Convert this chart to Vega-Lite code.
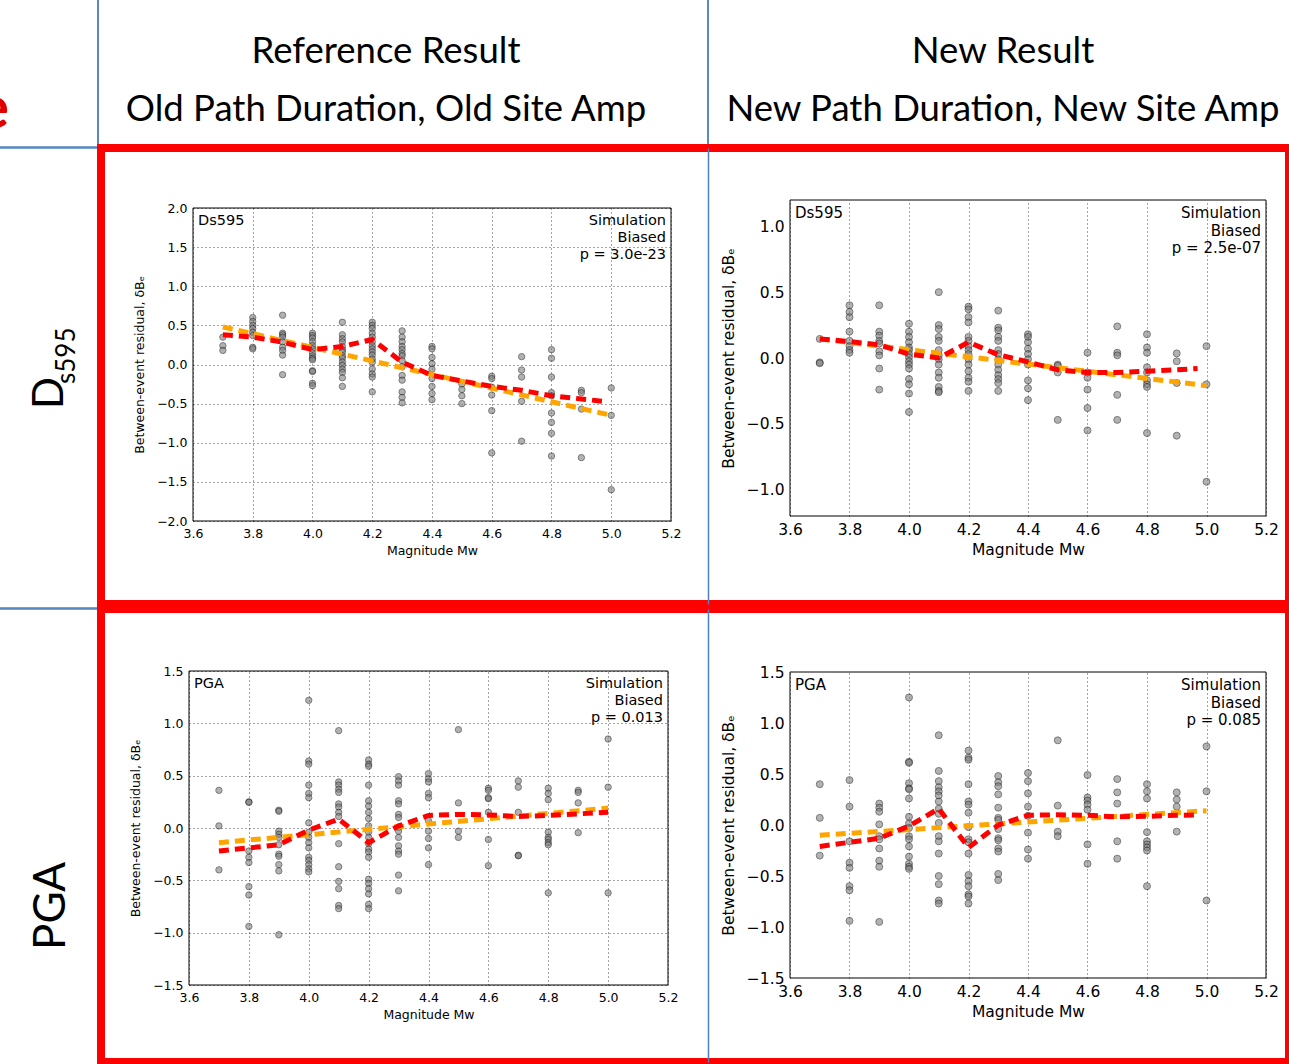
{
  "$schema": "https://vega.github.io/schema/vega-lite/v6.json",
  "padding": {"left": -31, "top": -6, "right": -10, "bottom": -2},
  "background": "white",
  "spacing": -4.75,
  "datasets": {
    "ds595_old": [
      {"Mw":3.7,"dB":0.35},{"Mw":3.7,"dB":0.24},{"Mw":3.7,"dB":0.18},
      {"Mw":3.8,"dB":0.60},{"Mw":3.8,"dB":0.55},{"Mw":3.8,"dB":0.50},{"Mw":3.8,"dB":0.46},{"Mw":3.8,"dB":0.41},{"Mw":3.8,"dB":0.37},{"Mw":3.8,"dB":0.22},{"Mw":3.8,"dB":0.20},
      {"Mw":3.9,"dB":0.63},{"Mw":3.9,"dB":0.40},{"Mw":3.9,"dB":0.38},{"Mw":3.9,"dB":0.35},{"Mw":3.9,"dB":0.29},{"Mw":3.9,"dB":0.22},{"Mw":3.9,"dB":0.18},{"Mw":3.9,"dB":0.12},{"Mw":3.9,"dB":-0.13},
      {"Mw":4.0,"dB":0.40},{"Mw":4.0,"dB":0.37},{"Mw":4.0,"dB":0.34},{"Mw":4.0,"dB":0.29},{"Mw":4.0,"dB":0.24},{"Mw":4.0,"dB":0.20},{"Mw":4.0,"dB":0.15},{"Mw":4.0,"dB":0.11},{"Mw":4.0,"dB":0.08},{"Mw":4.0,"dB":0.06},{"Mw":4.0,"dB":-0.08},{"Mw":4.0,"dB":-0.09},{"Mw":4.0,"dB":-0.24},{"Mw":4.0,"dB":-0.27},
      {"Mw":4.1,"dB":0.54},{"Mw":4.1,"dB":0.38},{"Mw":4.1,"dB":0.33},{"Mw":4.1,"dB":0.29},{"Mw":4.1,"dB":0.23},{"Mw":4.1,"dB":0.19},{"Mw":4.1,"dB":0.16},{"Mw":4.1,"dB":0.11},{"Mw":4.1,"dB":0.08},{"Mw":4.1,"dB":0.03},{"Mw":4.1,"dB":-0.01},{"Mw":4.1,"dB":-0.06},{"Mw":4.1,"dB":-0.10},{"Mw":4.1,"dB":-0.17},{"Mw":4.1,"dB":-0.28},
      {"Mw":4.2,"dB":0.54},{"Mw":4.2,"dB":0.50},{"Mw":4.2,"dB":0.46},{"Mw":4.2,"dB":0.40},{"Mw":4.2,"dB":0.35},{"Mw":4.2,"dB":0.29},{"Mw":4.2,"dB":0.24},{"Mw":4.2,"dB":0.20},{"Mw":4.2,"dB":0.16},{"Mw":4.2,"dB":0.12},{"Mw":4.2,"dB":0.07},{"Mw":4.2,"dB":0.03},{"Mw":4.2,"dB":-0.06},{"Mw":4.2,"dB":-0.12},{"Mw":4.2,"dB":-0.16},{"Mw":4.2,"dB":-0.35},
      {"Mw":4.3,"dB":0.43},{"Mw":4.3,"dB":0.35},{"Mw":4.3,"dB":0.29},{"Mw":4.3,"dB":0.23},{"Mw":4.3,"dB":0.19},{"Mw":4.3,"dB":0.14},{"Mw":4.3,"dB":0.11},{"Mw":4.3,"dB":0.05},{"Mw":4.3,"dB":-0.03},{"Mw":4.3,"dB":-0.14},{"Mw":4.3,"dB":-0.20},{"Mw":4.3,"dB":-0.35},{"Mw":4.3,"dB":-0.42},{"Mw":4.3,"dB":-0.49},
      {"Mw":4.4,"dB":0.23},{"Mw":4.4,"dB":0.20},{"Mw":4.4,"dB":0.09},{"Mw":4.4,"dB":0.01},{"Mw":4.4,"dB":-0.06},{"Mw":4.4,"dB":-0.18},{"Mw":4.4,"dB":-0.28},{"Mw":4.4,"dB":-0.37},{"Mw":4.4,"dB":-0.45},
      {"Mw":4.5,"dB":-0.25},{"Mw":4.5,"dB":-0.32},{"Mw":4.5,"dB":-0.40},{"Mw":4.5,"dB":-0.50},
      {"Mw":4.6,"dB":-0.15},{"Mw":4.6,"dB":-0.18},{"Mw":4.6,"dB":-0.29},{"Mw":4.6,"dB":-0.39},{"Mw":4.6,"dB":-0.59},{"Mw":4.6,"dB":-1.13},
      {"Mw":4.7,"dB":0.10},{"Mw":4.7,"dB":-0.07},{"Mw":4.7,"dB":-0.16},{"Mw":4.7,"dB":-0.47},{"Mw":4.7,"dB":-0.98},
      {"Mw":4.8,"dB":0.19},{"Mw":4.8,"dB":0.08},{"Mw":4.8,"dB":-0.16},{"Mw":4.8,"dB":-0.36},{"Mw":4.8,"dB":-0.40},{"Mw":4.8,"dB":-0.62},{"Mw":4.8,"dB":-0.74},{"Mw":4.8,"dB":-0.88},{"Mw":4.8,"dB":-1.17},
      {"Mw":4.9,"dB":-0.33},{"Mw":4.9,"dB":-0.36},{"Mw":4.9,"dB":-0.57},{"Mw":4.9,"dB":-1.19},
      {"Mw":5.0,"dB":-0.30},{"Mw":5.0,"dB":-0.65},{"Mw":5.0,"dB":-1.60}
    ],
    "ds595_old_mean": [
      {"Mw":3.7,"dB":0.38},{"Mw":3.8,"dB":0.35},{"Mw":3.9,"dB":0.285},{"Mw":4.0,"dB":0.19},{"Mw":4.1,"dB":0.23},{"Mw":4.2,"dB":0.32},{"Mw":4.3,"dB":0.03},{"Mw":4.4,"dB":-0.14},{"Mw":4.5,"dB":-0.21},{"Mw":4.6,"dB":-0.28},{"Mw":4.7,"dB":-0.33},{"Mw":4.8,"dB":-0.40},{"Mw":4.9,"dB":-0.44},{"Mw":4.97,"dB":-0.47}
    ],
    "ds595_old_fit": [{"Mw":3.7,"dB":0.48},{"Mw":5.0,"dB":-0.65}],
    "ds595_new": [
      {"Mw":3.7,"dB":0.145},{"Mw":3.7,"dB":-0.033},{"Mw":3.7,"dB":-0.04},
      {"Mw":3.8,"dB":0.40},{"Mw":3.8,"dB":0.35},{"Mw":3.8,"dB":0.31},{"Mw":3.8,"dB":0.20},{"Mw":3.8,"dB":0.13},{"Mw":3.8,"dB":0.09},{"Mw":3.8,"dB":0.06},{"Mw":3.8,"dB":0.04},
      {"Mw":3.9,"dB":0.40},{"Mw":3.9,"dB":0.20},{"Mw":3.9,"dB":0.17},{"Mw":3.9,"dB":0.13},{"Mw":3.9,"dB":0.11},{"Mw":3.9,"dB":0.05},{"Mw":3.9,"dB":0.02},{"Mw":3.9,"dB":-0.08},{"Mw":3.9,"dB":-0.24},
      {"Mw":4.0,"dB":0.26},{"Mw":4.0,"dB":0.20},{"Mw":4.0,"dB":0.16},{"Mw":4.0,"dB":0.12},{"Mw":4.0,"dB":0.08},{"Mw":4.0,"dB":0.06},{"Mw":4.0,"dB":0.03},{"Mw":4.0,"dB":0.005},{"Mw":4.0,"dB":-0.025},{"Mw":4.0,"dB":-0.05},{"Mw":4.0,"dB":-0.08},{"Mw":4.0,"dB":-0.16},{"Mw":4.0,"dB":-0.20},{"Mw":4.0,"dB":-0.27},{"Mw":4.0,"dB":-0.41},
      {"Mw":4.1,"dB":0.50},{"Mw":4.1,"dB":0.25},{"Mw":4.1,"dB":0.22},{"Mw":4.1,"dB":0.16},{"Mw":4.1,"dB":0.13},{"Mw":4.1,"dB":0.06},{"Mw":4.1,"dB":0.02},{"Mw":4.1,"dB":-0.01},{"Mw":4.1,"dB":-0.05},{"Mw":4.1,"dB":-0.11},{"Mw":4.1,"dB":-0.15},{"Mw":4.1,"dB":-0.22},{"Mw":4.1,"dB":-0.25},{"Mw":4.1,"dB":-0.26},
      {"Mw":4.2,"dB":0.39},{"Mw":4.2,"dB":0.37},{"Mw":4.2,"dB":0.31},{"Mw":4.2,"dB":0.27},{"Mw":4.2,"dB":0.16},{"Mw":4.2,"dB":0.13},{"Mw":4.2,"dB":0.09},{"Mw":4.2,"dB":0.06},{"Mw":4.2,"dB":0.03},{"Mw":4.2,"dB":-0.01},{"Mw":4.2,"dB":-0.05},{"Mw":4.2,"dB":-0.10},{"Mw":4.2,"dB":-0.15},{"Mw":4.2,"dB":-0.18},{"Mw":4.2,"dB":-0.25},
      {"Mw":4.3,"dB":0.36},{"Mw":4.3,"dB":0.23},{"Mw":4.3,"dB":0.21},{"Mw":4.3,"dB":0.16},{"Mw":4.3,"dB":0.13},{"Mw":4.3,"dB":0.06},{"Mw":4.3,"dB":0.03},{"Mw":4.3,"dB":-0.01},{"Mw":4.3,"dB":-0.05},{"Mw":4.3,"dB":-0.09},{"Mw":4.3,"dB":-0.13},{"Mw":4.3,"dB":-0.16},{"Mw":4.3,"dB":-0.19},{"Mw":4.3,"dB":-0.25},
      {"Mw":4.4,"dB":0.18},{"Mw":4.4,"dB":0.16},{"Mw":4.4,"dB":0.12},{"Mw":4.4,"dB":0.07},{"Mw":4.4,"dB":0.03},{"Mw":4.4,"dB":-0.01},{"Mw":4.4,"dB":-0.05},{"Mw":4.4,"dB":-0.17},{"Mw":4.4,"dB":-0.23},{"Mw":4.4,"dB":-0.32},
      {"Mw":4.5,"dB":-0.05},{"Mw":4.5,"dB":-0.06},{"Mw":4.5,"dB":-0.11},{"Mw":4.5,"dB":-0.47},
      {"Mw":4.6,"dB":0.04},{"Mw":4.6,"dB":-0.11},{"Mw":4.6,"dB":-0.15},{"Mw":4.6,"dB":-0.24},{"Mw":4.6,"dB":-0.38},{"Mw":4.6,"dB":-0.55},
      {"Mw":4.7,"dB":0.24},{"Mw":4.7,"dB":0.04},{"Mw":4.7,"dB":0.02},{"Mw":4.7,"dB":-0.28},{"Mw":4.7,"dB":-0.47},
      {"Mw":4.8,"dB":0.18},{"Mw":4.8,"dB":0.08},{"Mw":4.8,"dB":0.04},{"Mw":4.8,"dB":-0.07},{"Mw":4.8,"dB":-0.11},{"Mw":4.8,"dB":-0.17},{"Mw":4.8,"dB":-0.20},{"Mw":4.8,"dB":-0.22},{"Mw":4.8,"dB":-0.57},
      {"Mw":4.9,"dB":0.035},{"Mw":4.9,"dB":-0.025},{"Mw":4.9,"dB":-0.19},{"Mw":4.9,"dB":-0.59},
      {"Mw":5.0,"dB":0.09},{"Mw":5.0,"dB":-0.20},{"Mw":5.0,"dB":-0.94}
    ],
    "ds595_new_mean": [
      {"Mw":3.7,"dB":0.145},{"Mw":3.8,"dB":0.125},{"Mw":3.9,"dB":0.10},{"Mw":4.0,"dB":0.03},{"Mw":4.1,"dB":0.0},{"Mw":4.2,"dB":0.12},{"Mw":4.3,"dB":0.025},{"Mw":4.4,"dB":-0.03},{"Mw":4.5,"dB":-0.09},{"Mw":4.6,"dB":-0.11},{"Mw":4.7,"dB":-0.11},{"Mw":4.8,"dB":-0.10},{"Mw":4.9,"dB":-0.09},{"Mw":4.97,"dB":-0.08}
    ],
    "ds595_new_fit": [{"Mw":3.7,"dB":0.145},{"Mw":5.0,"dB":-0.21}],
    "pga_old": [
      {"Mw":3.7,"dB":0.36},{"Mw":3.7,"dB":0.02},{"Mw":3.7,"dB":-0.40},
      {"Mw":3.8,"dB":0.25},{"Mw":3.8,"dB":0.245},{"Mw":3.8,"dB":-0.22},{"Mw":3.8,"dB":-0.28},{"Mw":3.8,"dB":-0.33},{"Mw":3.8,"dB":-0.56},{"Mw":3.8,"dB":-0.64},{"Mw":3.8,"dB":-0.94},
      {"Mw":3.9,"dB":0.17},{"Mw":3.9,"dB":0.16},{"Mw":3.9,"dB":-0.03},{"Mw":3.9,"dB":-0.06},{"Mw":3.9,"dB":-0.09},{"Mw":3.9,"dB":-0.16},{"Mw":3.9,"dB":-0.25},{"Mw":3.9,"dB":-0.27},{"Mw":3.9,"dB":-0.35},{"Mw":3.9,"dB":-0.41},{"Mw":3.9,"dB":-1.02},
      {"Mw":4.0,"dB":1.22},{"Mw":4.0,"dB":0.64},{"Mw":4.0,"dB":0.61},{"Mw":4.0,"dB":0.41},{"Mw":4.0,"dB":0.33},{"Mw":4.0,"dB":0.29},{"Mw":4.0,"dB":0.05},{"Mw":4.0,"dB":-0.04},{"Mw":4.0,"dB":-0.09},{"Mw":4.0,"dB":-0.14},{"Mw":4.0,"dB":-0.19},{"Mw":4.0,"dB":-0.28},{"Mw":4.0,"dB":-0.31},{"Mw":4.0,"dB":-0.35},{"Mw":4.0,"dB":-0.39},{"Mw":4.0,"dB":-0.42},
      {"Mw":4.1,"dB":0.93},{"Mw":4.1,"dB":0.44},{"Mw":4.1,"dB":0.41},{"Mw":4.1,"dB":0.37},{"Mw":4.1,"dB":0.34},{"Mw":4.1,"dB":0.23},{"Mw":4.1,"dB":0.20},{"Mw":4.1,"dB":0.15},{"Mw":4.1,"dB":0.11},{"Mw":4.1,"dB":-0.15},{"Mw":4.1,"dB":-0.37},{"Mw":4.1,"dB":-0.51},{"Mw":4.1,"dB":-0.58},{"Mw":4.1,"dB":-0.74},{"Mw":4.1,"dB":-0.77},
      {"Mw":4.2,"dB":0.65},{"Mw":4.2,"dB":0.61},{"Mw":4.2,"dB":0.59},{"Mw":4.2,"dB":0.41},{"Mw":4.2,"dB":0.26},{"Mw":4.2,"dB":0.21},{"Mw":4.2,"dB":0.15},{"Mw":4.2,"dB":0.09},{"Mw":4.2,"dB":0.02},{"Mw":4.2,"dB":-0.04},{"Mw":4.2,"dB":-0.09},{"Mw":4.2,"dB":-0.15},{"Mw":4.2,"dB":-0.20},{"Mw":4.2,"dB":-0.23},{"Mw":4.2,"dB":-0.28},{"Mw":4.2,"dB":-0.49},{"Mw":4.2,"dB":-0.53},{"Mw":4.2,"dB":-0.58},{"Mw":4.2,"dB":-0.63},{"Mw":4.2,"dB":-0.73},{"Mw":4.2,"dB":-0.77},
      {"Mw":4.3,"dB":0.49},{"Mw":4.3,"dB":0.45},{"Mw":4.3,"dB":0.41},{"Mw":4.3,"dB":0.26},{"Mw":4.3,"dB":0.23},{"Mw":4.3,"dB":0.13},{"Mw":4.3,"dB":0.10},{"Mw":4.3,"dB":0.006},{"Mw":4.3,"dB":-0.03},{"Mw":4.3,"dB":-0.09},{"Mw":4.3,"dB":-0.17},{"Mw":4.3,"dB":-0.22},{"Mw":4.3,"dB":-0.25},{"Mw":4.3,"dB":-0.45},{"Mw":4.3,"dB":-0.60},
      {"Mw":4.4,"dB":0.52},{"Mw":4.4,"dB":0.47},{"Mw":4.4,"dB":0.44},{"Mw":4.4,"dB":0.33},{"Mw":4.4,"dB":0.29},{"Mw":4.4,"dB":0.07},{"Mw":4.4,"dB":-0.03},{"Mw":4.4,"dB":-0.10},{"Mw":4.4,"dB":-0.19},{"Mw":4.4,"dB":-0.35},
      {"Mw":4.5,"dB":0.94},{"Mw":4.5,"dB":0.24},{"Mw":4.5,"dB":-0.03},{"Mw":4.5,"dB":-0.09},
      {"Mw":4.6,"dB":0.38},{"Mw":4.6,"dB":0.36},{"Mw":4.6,"dB":0.29},{"Mw":4.6,"dB":0.28},{"Mw":4.6,"dB":0.15},{"Mw":4.6,"dB":-0.11},{"Mw":4.6,"dB":-0.36},
      {"Mw":4.7,"dB":0.45},{"Mw":4.7,"dB":0.39},{"Mw":4.7,"dB":0.15},{"Mw":4.7,"dB":-0.26},{"Mw":4.7,"dB":-0.265},
      {"Mw":4.8,"dB":0.38},{"Mw":4.8,"dB":0.33},{"Mw":4.8,"dB":0.27},{"Mw":4.8,"dB":-0.04},{"Mw":4.8,"dB":-0.09},{"Mw":4.8,"dB":-0.11},{"Mw":4.8,"dB":-0.14},{"Mw":4.8,"dB":-0.16},{"Mw":4.8,"dB":-0.62},
      {"Mw":4.9,"dB":0.36},{"Mw":4.9,"dB":0.34},{"Mw":4.9,"dB":0.24},{"Mw":4.9,"dB":-0.045},
      {"Mw":5.0,"dB":0.85},{"Mw":5.0,"dB":0.39},{"Mw":5.0,"dB":-0.62}
    ],
    "pga_old_mean": [
      {"Mw":3.7,"dB":-0.22},{"Mw":3.8,"dB":-0.19},{"Mw":3.9,"dB":-0.16},{"Mw":4.0,"dB":-0.02},{"Mw":4.1,"dB":0.085},{"Mw":4.2,"dB":-0.14},{"Mw":4.3,"dB":0.02},{"Mw":4.4,"dB":0.12},{"Mw":4.5,"dB":0.13},{"Mw":4.6,"dB":0.125},{"Mw":4.7,"dB":0.11},{"Mw":4.8,"dB":0.12},{"Mw":4.9,"dB":0.135},{"Mw":5.0,"dB":0.15}
    ],
    "pga_old_fit": [{"Mw":3.7,"dB":-0.14},{"Mw":5.0,"dB":0.19}],
    "pga_new": [
      {"Mw":3.7,"dB":0.40},{"Mw":3.7,"dB":0.07},{"Mw":3.7,"dB":-0.30},
      {"Mw":3.8,"dB":0.44},{"Mw":3.8,"dB":0.18},{"Mw":3.8,"dB":-0.16},{"Mw":3.8,"dB":-0.37},{"Mw":3.8,"dB":-0.42},{"Mw":3.8,"dB":-0.60},{"Mw":3.8,"dB":-0.64},{"Mw":3.8,"dB":-0.94},
      {"Mw":3.9,"dB":0.21},{"Mw":3.9,"dB":0.17},{"Mw":3.9,"dB":0.13},{"Mw":3.9,"dB":0.006},{"Mw":3.9,"dB":-0.11},{"Mw":3.9,"dB":-0.14},{"Mw":3.9,"dB":-0.23},{"Mw":3.9,"dB":-0.35},{"Mw":3.9,"dB":-0.41},{"Mw":3.9,"dB":-0.95},
      {"Mw":4.0,"dB":1.25},{"Mw":4.0,"dB":0.62},{"Mw":4.0,"dB":0.61},{"Mw":4.0,"dB":0.41},{"Mw":4.0,"dB":0.36},{"Mw":4.0,"dB":0.35},{"Mw":4.0,"dB":0.26},{"Mw":4.0,"dB":0.08},{"Mw":4.0,"dB":0.016},{"Mw":4.0,"dB":-0.03},{"Mw":4.0,"dB":-0.11},{"Mw":4.0,"dB":-0.14},{"Mw":4.0,"dB":-0.21},{"Mw":4.0,"dB":-0.31},{"Mw":4.0,"dB":-0.38},{"Mw":4.0,"dB":-0.41},{"Mw":4.0,"dB":-0.43},
      {"Mw":4.1,"dB":0.88},{"Mw":4.1,"dB":0.53},{"Mw":4.1,"dB":0.43},{"Mw":4.1,"dB":0.37},{"Mw":4.1,"dB":0.33},{"Mw":4.1,"dB":0.29},{"Mw":4.1,"dB":0.23},{"Mw":4.1,"dB":0.16},{"Mw":4.1,"dB":0.11},{"Mw":4.1,"dB":0.02},{"Mw":4.1,"dB":-0.11},{"Mw":4.1,"dB":-0.16},{"Mw":4.1,"dB":-0.28},{"Mw":4.1,"dB":-0.50},{"Mw":4.1,"dB":-0.58},{"Mw":4.1,"dB":-0.74},{"Mw":4.1,"dB":-0.77},
      {"Mw":4.2,"dB":0.73},{"Mw":4.2,"dB":0.66},{"Mw":4.2,"dB":0.64},{"Mw":4.2,"dB":0.40},{"Mw":4.2,"dB":0.23},{"Mw":4.2,"dB":0.20},{"Mw":4.2,"dB":0.12},{"Mw":4.2,"dB":-0.02},{"Mw":4.2,"dB":-0.14},{"Mw":4.2,"dB":-0.17},{"Mw":4.2,"dB":-0.28},{"Mw":4.2,"dB":-0.49},{"Mw":4.2,"dB":-0.55},{"Mw":4.2,"dB":-0.60},{"Mw":4.2,"dB":-0.68},{"Mw":4.2,"dB":-0.70},{"Mw":4.2,"dB":-0.77},
      {"Mw":4.3,"dB":0.48},{"Mw":4.3,"dB":0.42},{"Mw":4.3,"dB":0.38},{"Mw":4.3,"dB":0.30},{"Mw":4.3,"dB":0.17},{"Mw":4.3,"dB":0.07},{"Mw":4.3,"dB":0.05},{"Mw":4.3,"dB":-0.04},{"Mw":4.3,"dB":-0.13},{"Mw":4.3,"dB":-0.15},{"Mw":4.3,"dB":-0.23},{"Mw":4.3,"dB":-0.26},{"Mw":4.3,"dB":-0.48},{"Mw":4.3,"dB":-0.54},
      {"Mw":4.4,"dB":0.51},{"Mw":4.4,"dB":0.43},{"Mw":4.4,"dB":0.31},{"Mw":4.4,"dB":0.18},{"Mw":4.4,"dB":0.09},{"Mw":4.4,"dB":-0.075},{"Mw":4.4,"dB":-0.24},{"Mw":4.4,"dB":-0.33},
      {"Mw":4.5,"dB":0.83},{"Mw":4.5,"dB":0.19},{"Mw":4.5,"dB":-0.065},{"Mw":4.5,"dB":-0.11},
      {"Mw":4.6,"dB":0.49},{"Mw":4.6,"dB":0.27},{"Mw":4.6,"dB":0.24},{"Mw":4.6,"dB":0.20},{"Mw":4.6,"dB":0.15},{"Mw":4.6,"dB":-0.19},{"Mw":4.6,"dB":-0.38},
      {"Mw":4.7,"dB":0.45},{"Mw":4.7,"dB":0.32},{"Mw":4.7,"dB":0.21},{"Mw":4.7,"dB":-0.16},{"Mw":4.7,"dB":-0.33},
      {"Mw":4.8,"dB":0.40},{"Mw":4.8,"dB":0.33},{"Mw":4.8,"dB":0.26},{"Mw":4.8,"dB":-0.07},{"Mw":4.8,"dB":-0.16},{"Mw":4.8,"dB":-0.19},{"Mw":4.8,"dB":-0.22},{"Mw":4.8,"dB":-0.25},{"Mw":4.8,"dB":-0.60},
      {"Mw":4.9,"dB":0.32},{"Mw":4.9,"dB":0.25},{"Mw":4.9,"dB":0.18},{"Mw":4.9,"dB":-0.065},
      {"Mw":5.0,"dB":0.77},{"Mw":5.0,"dB":0.33},{"Mw":5.0,"dB":-0.74}
    ],
    "pga_new_mean": [
      {"Mw":3.7,"dB":-0.21},{"Mw":3.8,"dB":-0.17},{"Mw":3.9,"dB":-0.13},{"Mw":4.0,"dB":-0.01},{"Mw":4.1,"dB":0.16},{"Mw":4.2,"dB":-0.22},{"Mw":4.3,"dB":0.0},{"Mw":4.4,"dB":0.095},{"Mw":4.5,"dB":0.10},{"Mw":4.6,"dB":0.095},{"Mw":4.7,"dB":0.08},{"Mw":4.8,"dB":0.085},{"Mw":4.9,"dB":0.095},{"Mw":4.97,"dB":0.10}
    ],
    "pga_new_fit": [{"Mw":3.7,"dB":-0.10},{"Mw":5.0,"dB":0.14}]
  },
  "vconcat": [
    {
      "spacing": 0,
      "bounds": "flush",
      "hconcat": [
        {
          "width": 128, "height": 152,
          "view": {"stroke": "#4F81BD", "strokeWidth": 1.5},
          "data": {"values": [{"t": "e"}]},
          "mark": {"type": "text", "font": "Lato", "fontSize": 60, "fontWeight": "bold", "color": "#E00000", "align": "right", "baseline": "alphabetic", "dx": -25, "dy": 57},
          "encoding": {"text": {"field": "t"}}
        },
        {
          "width": 610, "height": 152,
          "view": {"stroke": "#4F81BD", "strokeWidth": 1.5},
          "data": {"values": [{"heading": "Reference Result\nOld Path Duration, Old Site Amp"}]},
          "mark": {"type": "text", "font": "Lato", "fontSize": 36.5, "lineBreak": "\n", "lineHeight": 58, "align": "center", "baseline": "alphabetic", "dx": -17, "dy": -8, "color": "#000"},
          "encoding": {"text": {"field": "heading"}}
        },
        {
          "width": 590, "height": 152,
          "view": {"stroke": "#4F81BD", "strokeWidth": 1.5},
          "data": {"values": [{"heading": "New Result\nNew Path Duration, New Site Amp"}]},
          "mark": {"type": "text", "font": "Lato", "fontSize": 36.5, "lineBreak": "\n", "lineHeight": 58, "align": "center", "baseline": "alphabetic", "dx": 0, "dy": -8, "color": "#000"},
          "encoding": {"text": {"field": "heading"}}
        }
      ]
    },
    {
      "spacing": 0,
      "bounds": "flush",
      "hconcat": [
        {
          "width": 131, "height": 460,
          "view": {"stroke": "#4F81BD", "strokeWidth": 1.5},
          "layer": [
            {
              "data": {"values": [{"t": "D"}]},
              "mark": {"type": "text", "font": "Lato", "fontSize": 42, "angle": 270, "align": "left", "baseline": "alphabetic", "dx": -31, "dy": 27.5, "color": "#000"},
              "encoding": {"text": {"field": "t"}}
            },
            {
              "data": {"values": [{"t": "s595"}]},
              "mark": {"type": "text", "font": "Lato", "fontSize": 26, "angle": 270, "align": "left", "baseline": "alphabetic", "dx": -6, "dy": 39.5, "color": "#000"},
              "encoding": {"text": {"field": "t"}}
            }
          ]
        },
        {
          "width": 1188, "height": 456,
          "view": {"stroke": "#FF0000", "strokeWidth": 8},
          "resolve": {"scale": {"x": "independent", "y": "independent"}, "axis": {"x": "independent", "y": "independent"}},
          "layer": [
            {
              "resolve": {"axis": {"x": "independent"}},
              "layer": [
                {
                  "data": {"name": "ds595_old"},
                  "mark": {"type": "circle", "size": 40, "color": "#808080", "opacity": 0.6, "stroke": "#202020", "strokeWidth": 1},
                  "encoding": {
                    "x": {"field": "Mw", "type": "quantitative",
                          "scale": {"domain": [3.6, 5.2], "range": [92, 570], "nice": false, "zero": false},
                          "axis": {"orient": "bottom", "offset": -83, "grid": false, "values": [3.6, 3.8, 4.0, 4.2, 4.4, 4.6, 4.8, 5.0, 5.2], "title": "Magnitude Mw", "labelFontSize": 12.5, "titleFontSize": 12.5, "labelPadding": 6, "titlePadding": 5}},
                    "y": {"field": "dB", "type": "quantitative",
                          "scale": {"domain": [-2, 2], "range": [373, 60], "nice": false, "zero": false},
                          "axis": {"orient": "left", "offset": -92, "values": [-2, -1.5, -1, -0.5, 0, 0.5, 1, 1.5, 2], "title": "Between-event residual, δBₑ", "labelFontSize": 12.5, "titleFontSize": 12.5, "labelPadding": 6, "titlePadding": 10}}
                  }
                },
                {
                  "data": {"name": "ds595_old_fit"},
                  "mark": {"type": "line", "color": "#FFA500", "strokeWidth": 5, "strokeDash": [10, 6]},
                  "encoding": {"x": {"field": "Mw", "type": "quantitative", "axis": null}, "y": {"field": "dB", "type": "quantitative"}}
                },
                {
                  "data": {"name": "ds595_old_mean"},
                  "mark": {"type": "line", "color": "#FF0000", "strokeWidth": 5, "strokeDash": [10, 6]},
                  "encoding": {"x": {"field": "Mw", "type": "quantitative", "axis": null}, "y": {"field": "dB", "type": "quantitative"}}
                },
                {
                  "data": {"values": [{}]},
                  "mark": {"type": "rect", "fillOpacity": 0, "stroke": "#000", "strokeWidth": 1},
                  "encoding": {
                    "x": {"datum": 3.6, "type": "quantitative", "axis": {"orient": "top", "grid": true, "labels": false, "title": null, "values": [3.6, 3.8, 4.0, 4.2, 4.4, 4.6, 4.8, 5.0, 5.2]}},
                    "x2": {"datum": 5.2}, "y": {"datum": -2, "type": "quantitative"}, "y2": {"datum": 2}}
                },
                {
                  "data": {"values": [{"note": "Ds595"}]},
                  "mark": {"type": "text", "align": "left", "baseline": "top", "dx": 5, "dy": 6, "fontSize": 14.5},
                  "encoding": {"x": {"datum": 3.6, "type": "quantitative", "axis": null}, "y": {"datum": 2, "type": "quantitative"}, "text": {"field": "note"}}
                },
                {
                  "data": {"values": [{"note": "Simulation\nBiased\np = 3.0e-23"}]},
                  "mark": {"type": "text", "align": "right", "baseline": "top", "lineBreak": "\n", "lineHeight": 17, "dx": -5, "dy": 6, "fontSize": 14.5},
                  "encoding": {"x": {"datum": 5.2, "type": "quantitative", "axis": null}, "y": {"datum": 2, "type": "quantitative"}, "text": {"field": "note"}}
                }
              ]
            },
            {
              "resolve": {"axis": {"x": "independent"}},
              "layer": [
                {
                  "data": {"name": "ds595_new"},
                  "mark": {"type": "circle", "size": 48, "color": "#808080", "opacity": 0.6, "stroke": "#202020", "strokeWidth": 1},
                  "encoding": {
                    "x": {"field": "Mw", "type": "quantitative",
                          "scale": {"domain": [3.6, 5.2], "range": [689, 1165], "nice": false, "zero": false},
                          "axis": {"orient": "bottom", "offset": -88, "grid": false, "values": [3.6, 3.8, 4.0, 4.2, 4.4, 4.6, 4.8, 5.0, 5.2], "title": "Magnitude Mw", "labelFontSize": 15.5, "titleFontSize": 15.5, "labelPadding": 6, "titlePadding": 5}},
                    "y": {"field": "dB", "type": "quantitative",
                          "scale": {"domain": [-1.2, 1.2], "range": [368, 52], "nice": false, "zero": false},
                          "axis": {"orient": "left", "offset": -689, "values": [-1, -0.5, 0, 0.5, 1], "title": "Between-event residual, δBₑ", "labelFontSize": 15.5, "titleFontSize": 15.5, "labelPadding": 6, "titlePadding": 10}}
                  }
                },
                {
                  "data": {"name": "ds595_new_fit"},
                  "mark": {"type": "line", "color": "#FFA500", "strokeWidth": 5, "strokeDash": [10, 6]},
                  "encoding": {"x": {"field": "Mw", "type": "quantitative", "axis": null}, "y": {"field": "dB", "type": "quantitative"}}
                },
                {
                  "data": {"name": "ds595_new_mean"},
                  "mark": {"type": "line", "color": "#FF0000", "strokeWidth": 5, "strokeDash": [10, 6]},
                  "encoding": {"x": {"field": "Mw", "type": "quantitative", "axis": null}, "y": {"field": "dB", "type": "quantitative"}}
                },
                {
                  "data": {"values": [{}]},
                  "mark": {"type": "rect", "fillOpacity": 0, "stroke": "#000", "strokeWidth": 1},
                  "encoding": {
                    "x": {"datum": 3.6, "type": "quantitative", "axis": {"orient": "top", "grid": true, "labels": false, "title": null, "values": [3.6, 3.8, 4.0, 4.2, 4.4, 4.6, 4.8, 5.0, 5.2]}},
                    "x2": {"datum": 5.2}, "y": {"datum": -1.2, "type": "quantitative"}, "y2": {"datum": 1.2}}
                },
                {
                  "data": {"values": [{"note": "Ds595"}]},
                  "mark": {"type": "text", "align": "left", "baseline": "top", "dx": 5, "dy": 6, "fontSize": 15},
                  "encoding": {"x": {"datum": 3.6, "type": "quantitative", "axis": null}, "y": {"datum": 1.2, "type": "quantitative"}, "text": {"field": "note"}}
                },
                {
                  "data": {"values": [{"note": "Simulation\nBiased\np = 2.5e-07"}]},
                  "mark": {"type": "text", "align": "right", "baseline": "top", "lineBreak": "\n", "lineHeight": 17.5, "dx": -5, "dy": 6, "fontSize": 15},
                  "encoding": {"x": {"datum": 5.2, "type": "quantitative", "axis": null}, "y": {"datum": 1.2, "type": "quantitative"}, "text": {"field": "note"}}
                }
              ]
            },
            {
              "data": {"values": [{}]},
              "mark": {"type": "rule", "opacity": 0},
              "encoding": {
                "y": {"datum": 0, "type": "quantitative", "scale": {"domain": [0, 1], "range": [456, 0]},
                      "axis": {"orient": "left", "offset": -607, "domain": true, "domainColor": "#4F81BD", "domainWidth": 1.5, "labels": false, "ticks": false, "grid": false, "title": null}}
              }
            }
          ]
        }
      ]
    },
    {
      "spacing": 0,
      "bounds": "flush",
      "hconcat": [
        {
          "width": 131, "height": 457,
          "view": {"stroke": "#4F81BD", "strokeWidth": 1.5},
          "data": {"values": [{"t": "PGA"}]},
          "mark": {"type": "text", "font": "Lato", "fontSize": 44, "angle": 270, "align": "center", "baseline": "alphabetic", "dx": -68.5, "dy": 29.5, "color": "#000"},
          "encoding": {"text": {"field": "t"}}
        },
        {
          "width": 1188, "height": 453,
          "view": {"stroke": "#FF0000", "strokeWidth": 8},
          "resolve": {"scale": {"x": "independent", "y": "independent"}, "axis": {"x": "independent", "y": "independent"}},
          "layer": [
            {
              "resolve": {"axis": {"x": "independent"}},
              "layer": [
                {
                  "data": {"name": "pga_old"},
                  "mark": {"type": "circle", "size": 40, "color": "#808080", "opacity": 0.6, "stroke": "#202020", "strokeWidth": 1},
                  "encoding": {
                    "x": {"field": "Mw", "type": "quantitative",
                          "scale": {"domain": [3.6, 5.2], "range": [88, 567], "nice": false, "zero": false},
                          "axis": {"orient": "bottom", "offset": -77, "grid": false, "values": [3.6, 3.8, 4.0, 4.2, 4.4, 4.6, 4.8, 5.0, 5.2], "title": "Magnitude Mw", "labelFontSize": 12.5, "titleFontSize": 12.5, "labelPadding": 6, "titlePadding": 5}},
                    "y": {"field": "dB", "type": "quantitative",
                          "scale": {"domain": [-1.5, 1.5], "range": [376, 62], "nice": false, "zero": false},
                          "axis": {"orient": "left", "offset": -88, "values": [-1.5, -1, -0.5, 0, 0.5, 1, 1.5], "title": "Between-event residual, δBₑ", "labelFontSize": 12.5, "titleFontSize": 12.5, "labelPadding": 6, "titlePadding": 10}}
                  }
                },
                {
                  "data": {"name": "pga_old_fit"},
                  "mark": {"type": "line", "color": "#FFA500", "strokeWidth": 5, "strokeDash": [10, 6]},
                  "encoding": {"x": {"field": "Mw", "type": "quantitative", "axis": null}, "y": {"field": "dB", "type": "quantitative"}}
                },
                {
                  "data": {"name": "pga_old_mean"},
                  "mark": {"type": "line", "color": "#FF0000", "strokeWidth": 5, "strokeDash": [10, 6]},
                  "encoding": {"x": {"field": "Mw", "type": "quantitative", "axis": null}, "y": {"field": "dB", "type": "quantitative"}}
                },
                {
                  "data": {"values": [{}]},
                  "mark": {"type": "rect", "fillOpacity": 0, "stroke": "#000", "strokeWidth": 1},
                  "encoding": {
                    "x": {"datum": 3.6, "type": "quantitative", "axis": {"orient": "top", "grid": true, "labels": false, "title": null, "values": [3.6, 3.8, 4.0, 4.2, 4.4, 4.6, 4.8, 5.0, 5.2]}},
                    "x2": {"datum": 5.2}, "y": {"datum": -1.5, "type": "quantitative"}, "y2": {"datum": 1.5}}
                },
                {
                  "data": {"values": [{"note": "PGA"}]},
                  "mark": {"type": "text", "align": "left", "baseline": "top", "dx": 5, "dy": 6, "fontSize": 14.5},
                  "encoding": {"x": {"datum": 3.6, "type": "quantitative", "axis": null}, "y": {"datum": 1.5, "type": "quantitative"}, "text": {"field": "note"}}
                },
                {
                  "data": {"values": [{"note": "Simulation\nBiased\np = 0.013"}]},
                  "mark": {"type": "text", "align": "right", "baseline": "top", "lineBreak": "\n", "lineHeight": 17, "dx": -5, "dy": 6, "fontSize": 14.5},
                  "encoding": {"x": {"datum": 5.2, "type": "quantitative", "axis": null}, "y": {"datum": 1.5, "type": "quantitative"}, "text": {"field": "note"}}
                }
              ]
            },
            {
              "resolve": {"axis": {"x": "independent"}},
              "layer": [
                {
                  "data": {"name": "pga_new"},
                  "mark": {"type": "circle", "size": 48, "color": "#808080", "opacity": 0.6, "stroke": "#202020", "strokeWidth": 1},
                  "encoding": {
                    "x": {"field": "Mw", "type": "quantitative",
                          "scale": {"domain": [3.6, 5.2], "range": [689, 1165], "nice": false, "zero": false},
                          "axis": {"orient": "bottom", "offset": -84, "grid": false, "values": [3.6, 3.8, 4.0, 4.2, 4.4, 4.6, 4.8, 5.0, 5.2], "title": "Magnitude Mw", "labelFontSize": 15.5, "titleFontSize": 15.5, "labelPadding": 6, "titlePadding": 5}},
                    "y": {"field": "dB", "type": "quantitative",
                          "scale": {"domain": [-1.5, 1.5], "range": [369, 63], "nice": false, "zero": false},
                          "axis": {"orient": "left", "offset": -689, "values": [-1.5, -1, -0.5, 0, 0.5, 1, 1.5], "title": "Between-event residual, δBₑ", "labelFontSize": 15.5, "titleFontSize": 15.5, "labelPadding": 6, "titlePadding": 10}}
                  }
                },
                {
                  "data": {"name": "pga_new_fit"},
                  "mark": {"type": "line", "color": "#FFA500", "strokeWidth": 5, "strokeDash": [10, 6]},
                  "encoding": {"x": {"field": "Mw", "type": "quantitative", "axis": null}, "y": {"field": "dB", "type": "quantitative"}}
                },
                {
                  "data": {"name": "pga_new_mean"},
                  "mark": {"type": "line", "color": "#FF0000", "strokeWidth": 5, "strokeDash": [10, 6]},
                  "encoding": {"x": {"field": "Mw", "type": "quantitative", "axis": null}, "y": {"field": "dB", "type": "quantitative"}}
                },
                {
                  "data": {"values": [{}]},
                  "mark": {"type": "rect", "fillOpacity": 0, "stroke": "#000", "strokeWidth": 1},
                  "encoding": {
                    "x": {"datum": 3.6, "type": "quantitative", "axis": {"orient": "top", "grid": true, "labels": false, "title": null, "values": [3.6, 3.8, 4.0, 4.2, 4.4, 4.6, 4.8, 5.0, 5.2]}},
                    "x2": {"datum": 5.2}, "y": {"datum": -1.5, "type": "quantitative"}, "y2": {"datum": 1.5}}
                },
                {
                  "data": {"values": [{"note": "PGA"}]},
                  "mark": {"type": "text", "align": "left", "baseline": "top", "dx": 5, "dy": 6, "fontSize": 15},
                  "encoding": {"x": {"datum": 3.6, "type": "quantitative", "axis": null}, "y": {"datum": 1.5, "type": "quantitative"}, "text": {"field": "note"}}
                },
                {
                  "data": {"values": [{"note": "Simulation\nBiased\np = 0.085"}]},
                  "mark": {"type": "text", "align": "right", "baseline": "top", "lineBreak": "\n", "lineHeight": 17.5, "dx": -5, "dy": 6, "fontSize": 15},
                  "encoding": {"x": {"datum": 5.2, "type": "quantitative", "axis": null}, "y": {"datum": 1.5, "type": "quantitative"}, "text": {"field": "note"}}
                }
              ]
            },
            {
              "data": {"values": [{}]},
              "mark": {"type": "rule", "opacity": 0},
              "encoding": {
                "y": {"datum": 0, "type": "quantitative", "scale": {"domain": [0, 1], "range": [453, 0]},
                      "axis": {"orient": "left", "offset": -607, "domain": true, "domainColor": "#4F81BD", "domainWidth": 1.5, "labels": false, "ticks": false, "grid": false, "title": null}}
              }
            }
          ]
        }
      ]
    }
  ],
  "config": {
    "view": {"stroke": null},
    "font": "DejaVu Sans",
    "text": {"font": "DejaVu Sans", "color": "#000"},
    "axis": {
      "labelFont": "DejaVu Sans",
      "titleFont": "DejaVu Sans",
      "labelColor": "#000",
      "titleColor": "#000",
      "titleFontWeight": "normal",
      "domain": false,
      "ticks": false,
      "grid": true,
      "gridColor": "#000",
      "gridDash": [1, 3],
      "gridWidth": 0.8,
      "gridOpacity": 0.9,
      "labelOverlap": false,
      "labelFlush": false,
      "format": ".1f"
    }
  }
}
